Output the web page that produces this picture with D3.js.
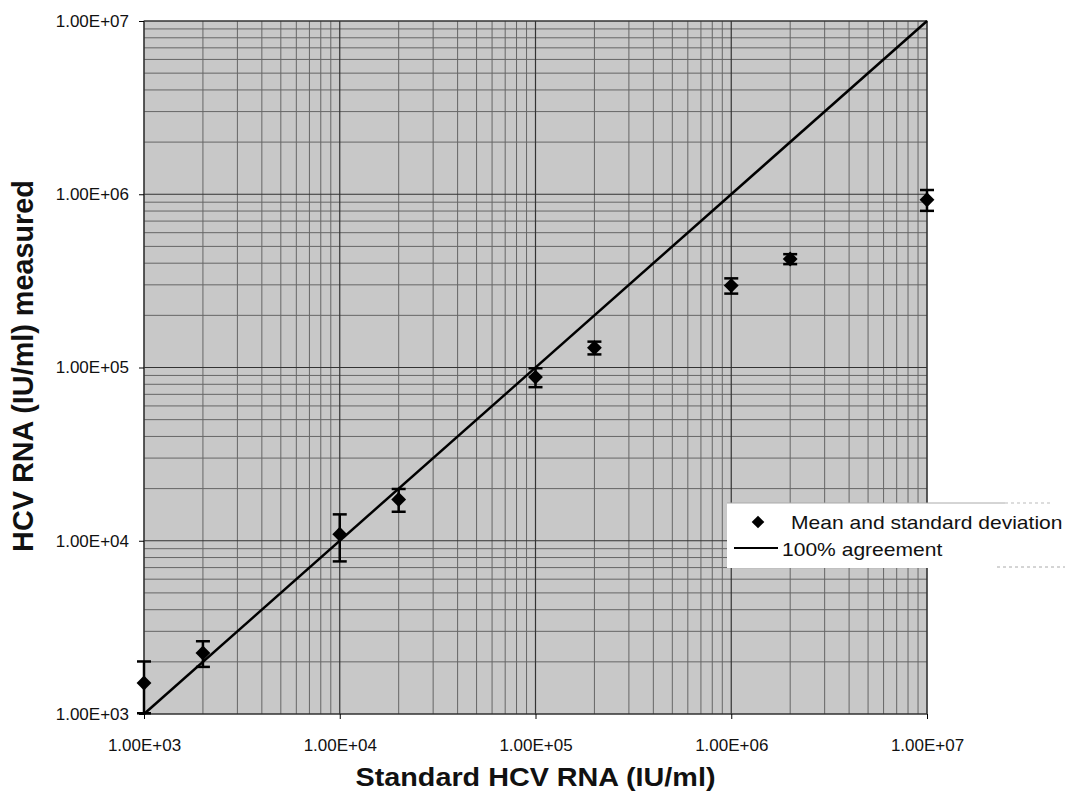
<!DOCTYPE html>
<html>
<head>
<meta charset="utf-8">
<script src="https://cdn.jsdelivr.net/npm/d3@7"></script>
<style>
  body { margin: 0; background: #fff; }
  svg { display: block; font-family: Arial, "Liberation Sans", sans-serif; }
</style>
</head>
<body>
<svg id="chart" width="1073" height="795"></svg>
<script>
// standard concentration (IU/ml)
const standard = [1e3, 2e3, 1e4, 2e4, 1e5, 2e5, 1e6, 2e6, 1e7];
// mean measured (IU/ml)
const measuredMean = [1510, 2250, 10900, 17300, 88000, 130000, 297000, 423000, 930000];
// standard deviation
const measuredSD = [500, 380, 3300, 2600, 11000, 11000, 30000, 28000, 128000];
const decades = [1e3, 1e4, 1e5, 1e6, 1e7];
const agreement = [1e3, 1e7];
const legendLabels = ["Mean and standard deviation", "100% agreement"];

const svg = d3.select("#chart");
const pLeft = 144, pRight = 927, pTop = 21, pBottom = 714;

const x = d3.scaleLog().domain([1e3, 1e7]).range([pLeft, pRight]);
const y = d3.scaleLog().domain([1e3, 1e7]).range([pBottom, pTop]);
const fmt = v => v.toExponential(2).toUpperCase().replace(/E\+(\d)$/, "E+0$1");

// plot area
svg.append("rect")
  .attr("x", pLeft).attr("y", pTop)
  .attr("width", pRight - pLeft).attr("height", pBottom - pTop)
  .attr("fill", "#c8c8c8");

// grid: 1..9 per decade
const minor = [];
for (let d = 1e3; d < 1e7; d *= 10) for (let k = 2; k <= 9; k++) minor.push(d * k);

const grid = svg.append("g");
grid.selectAll("line.vx").data(minor).join("line")
  .attr("x1", d => x(d)).attr("x2", d => x(d))
  .attr("y1", pTop).attr("y2", pBottom)
  .attr("stroke", "#666").attr("stroke-width", 1);
grid.selectAll("line.hy").data(minor).join("line")
  .attr("y1", d => y(d)).attr("y2", d => y(d))
  .attr("x1", pLeft).attr("x2", pRight)
  .attr("stroke", "#666").attr("stroke-width", 1);
grid.selectAll("line.mx").data(decades).join("line")
  .attr("x1", d => x(d)).attr("x2", d => x(d))
  .attr("y1", pTop).attr("y2", pBottom)
  .attr("stroke", "#333").attr("stroke-width", 1.2);
grid.selectAll("line.my").data(decades).join("line")
  .attr("y1", d => y(d)).attr("y2", d => y(d))
  .attr("x1", pLeft).attr("x2", pRight)
  .attr("stroke", "#333").attr("stroke-width", 1.2);

svg.append("rect")
  .attr("x", pLeft).attr("y", pTop)
  .attr("width", pRight - pLeft).attr("height", pBottom - pTop)
  .attr("fill", "none").attr("stroke", "#333").attr("stroke-width", 1);

// axes
const xAxis = d3.axisBottom(x).tickValues(decades).tickFormat(fmt).tickSize(5).tickPadding(20);
const yAxis = d3.axisLeft(y).tickValues(decades).tickFormat(fmt).tickSize(5).tickPadding(10);

svg.append("g").attr("transform", `translate(0,${pBottom})`).call(xAxis)
  .call(g => g.select(".domain").remove())
  .call(g => g.selectAll("text").attr("font-size", 17).attr("fill", "#111").attr("font-family", "Arial, 'Liberation Sans', sans-serif"));
svg.append("g").attr("transform", `translate(${pLeft},0)`).call(yAxis)
  .call(g => g.select(".domain").remove())
  .call(g => g.selectAll("text").attr("font-size", 17).attr("fill", "#111").attr("font-family", "Arial, 'Liberation Sans', sans-serif"));

// 100% agreement line
svg.append("path")
  .datum(agreement)
  .attr("d", d3.line().x(d => x(d)).y(d => y(d)))
  .attr("stroke", "#000").attr("stroke-width", 2.5).attr("fill", "none");

// error bars
const pts = standard.map((s, i) => ({ s, m: measuredMean[i], sd: measuredSD[i] }));
const eb = svg.append("g").attr("stroke", "#000").attr("stroke-width", 2.5);
eb.selectAll("line.v").data(pts).join("line")
  .attr("x1", d => x(d.s)).attr("x2", d => x(d.s))
  .attr("y1", d => y(d.m + d.sd)).attr("y2", d => y(Math.max(1e3, d.m - d.sd)));
eb.selectAll("line.t").data(pts).join("line")
  .attr("x1", d => x(d.s) - 7).attr("x2", d => x(d.s) + 7)
  .attr("y1", d => y(d.m + d.sd)).attr("y2", d => y(d.m + d.sd));
eb.selectAll("line.b").data(pts.filter(d => d.m - d.sd > 1e3)).join("line")
  .attr("x1", d => x(d.s) - 7).attr("x2", d => x(d.s) + 7)
  .attr("y1", d => y(d.m - d.sd)).attr("y2", d => y(d.m - d.sd));

const diamond = d3.symbol().type(d3.symbolSquare).size(110);
svg.append("g").selectAll("path").data(pts).join("path")
  .attr("d", diamond)
  .attr("transform", d => `translate(${x(d.s)},${y(d.m)}) rotate(45)`)
  .attr("fill", "#000");

// legend
const lg = svg.append("g");
lg.append("rect").attr("x", 727).attr("y", 503).attr("width", 346).attr("height", 65).attr("fill", "#fff");
lg.append("line").attr("x1", 727).attr("x2", 1005).attr("y1", 503).attr("y2", 503)
  .attr("stroke", "#aaa").attr("stroke-width", 1);
lg.append("line").attr("x1", 1005).attr("x2", 1050).attr("y1", 503).attr("y2", 503)
  .attr("stroke", "#bbb").attr("stroke-width", 1).attr("stroke-dasharray", "3,3");
lg.append("line").attr("x1", 997).attr("x2", 1065).attr("y1", 567).attr("y2", 567)
  .attr("stroke", "#aaa").attr("stroke-width", 1).attr("stroke-dasharray", "3,3");
lg.append("path").attr("d", d3.symbol().type(d3.symbolSquare).size(80)).attr("transform", "translate(758,522) rotate(45)").attr("fill", "#000");
lg.append("line").attr("x1", 734).attr("x2", 778).attr("y1", 548).attr("y2", 548)
  .attr("stroke", "#000").attr("stroke-width", 2);
lg.selectAll("text").data(legendLabels).join("text")
  .attr("transform", (d, i) => `translate(${i ? 782 : 791},${i ? 556 : 529}) scale(1.17,1)`)
  .attr("font-size", 18).attr("fill", "#111")
  .text(d => d);

// axis titles
svg.append("text")
  .attr("transform", `translate(${(pLeft + pRight) / 2},786) scale(1.15,1)`)
  .attr("text-anchor", "middle").attr("font-weight", "bold").attr("font-size", 25)
  .attr("fill", "#111")
  .text("Standard HCV RNA (IU/ml)");
svg.append("text")
  .attr("transform", "translate(33,366) rotate(-90)")
  .attr("text-anchor", "middle").attr("font-weight", "bold").attr("font-size", 28.8)
  .attr("fill", "#111")
  .text("HCV RNA (IU/ml) measured");
</script>
</body>
</html>
